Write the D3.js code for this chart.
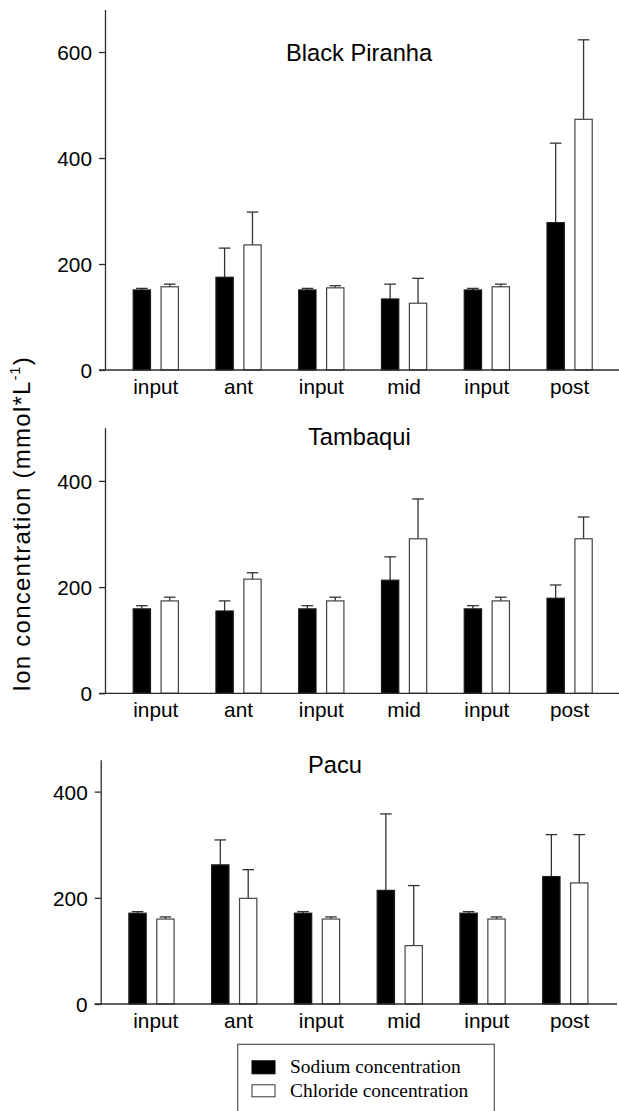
<!DOCTYPE html>
<html>
<head>
<meta charset="utf-8">
<script src="https://cdn.jsdelivr.net/npm/d3@7"></script>
<style>
  html, body { margin: 0; padding: 0; background: #fff; }
  svg { display: block; }
</style>
</head>
<body>
<svg id="chart" width="619" height="1111"></svg>
<script>
// ---------- data ----------
const categories = ["input", "ant", "input", "mid", "input", "post"];
const seriesNames = ["Sodium concentration", "Chloride concentration"];

const titles = ["Black Piranha", "Tambaqui", "Pacu"];

const piranhaNa    = [151, 175, 151, 134, 151, 278];
const piranhaNaErr = [3, 55, 3, 28, 3, 150];
const piranhaCl    = [157, 236, 155, 126, 157, 473];
const piranhaClErr = [5, 62, 4, 47, 5, 150];

const tambaquiNa    = [159, 155, 159, 213, 159, 179];
const tambaquiNaErr = [6, 19, 6, 44, 6, 25];
const tambaquiCl    = [174, 215, 174, 291, 174, 291];
const tambaquiClErr = [7, 12, 7, 75, 7, 41];

const pacuNa    = [171, 262, 171, 214, 171, 240];
const pacuNaErr = [3, 47, 3, 144, 3, 79];
const pacuCl    = [160, 199, 160, 110, 160, 228];
const pacuClErr = [4, 54, 4, 113, 4, 91];

const piranhaTicks  = [0, 200, 400, 600];
const tambaquiTicks = [0, 200, 400];
const pacuTicks     = [0, 200, 400];

const yMaxes = [680, 500, 460];

// ---------- layout ----------
const SANS = "'Liberation Sans', Arial, Helvetica, sans-serif";
const SERIF = "'Liberation Serif', 'Times New Roman', serif";

const panels = [
  { na: piranhaNa, naErr: piranhaNaErr, cl: piranhaCl, clErr: piranhaClErr, ticks: piranhaTicks,
    axisX: 105, base: 370, pxPerUnit: 0.53, titleX: 286, titleY: 61, labelAxisX: 105, axisEnd: 619 },
  { na: tambaquiNa, naErr: tambaquiNaErr, cl: tambaquiCl, clErr: tambaquiClErr, ticks: tambaquiTicks,
    axisX: 105, base: 693.3, pxPerUnit: 0.531, titleX: 308, titleY: 445, labelAxisX: 105, axisEnd: 619 },
  { na: pacuNa, naErr: pacuNaErr, cl: pacuCl, clErr: pacuClErr, ticks: pacuTicks,
    axisX: 100.7, base: 1004, pxPerUnit: 0.531, titleX: 308, titleY: 773, labelAxisX: 105, axisEnd: 617 }
];

const svg = d3.select("#chart");
const axisColor = "#2b2b2b";
const fs = 20.8;

panels.forEach((p, pi) => {
  const yMax = yMaxes[pi];
  const y = d3.scaleLinear().domain([0, yMax]).range([p.base, p.base - yMax * p.pxPerUnit]);
  const bandStart = 9.4, bandEnd = 506;
  const x0 = d3.scaleBand().domain(d3.range(categories.length))
    .range([p.axisX + bandStart, p.axisX + bandEnd]).padding(0);
  const xLab = d3.scaleBand().domain(d3.range(categories.length))
    .range([p.labelAxisX + bandStart, p.labelAxisX + bandEnd]).padding(0);
  const x1 = d3.scaleBand().domain(["na", "cl"])
    .range([x0.bandwidth() / 2 - 22.6, x0.bandwidth() / 2 + 22.6]).paddingInner(0.38).paddingOuter(0);

  const g = svg.append("g");

  // title
  g.append("text").attr("x", p.titleX).attr("y", p.titleY)
    .style("font-family", SANS).style("font-size", "23.7px").attr("fill", "#000")
    .text(titles[pi]);

  // bars
  const rows = categories.map((c, i) => ({ i, na: p.na[i], naErr: p.naErr[i], cl: p.cl[i], clErr: p.clErr[i] }));
  const grp = g.selectAll("g.grp").data(rows).join("g").attr("class", "grp")
    .attr("transform", d => `translate(${x0(d.i)},0)`);

  const items = d => [
    { key: "na", v: d.na, e: d.naErr },
    { key: "cl", v: d.cl, e: d.clErr }
  ];
  const capW = 5.8;
  grp.selectAll("line.err").data(items).join("line").attr("class", "err")
    .attr("x1", d => x1(d.key) + x1.bandwidth() / 2)
    .attr("x2", d => x1(d.key) + x1.bandwidth() / 2)
    .attr("y1", d => y(d.v)).attr("y2", d => y(d.v + d.e))
    .attr("stroke", "#333").attr("stroke-width", 1.3);
  grp.selectAll("line.cap").data(items).join("line").attr("class", "cap")
    .attr("x1", d => x1(d.key) + x1.bandwidth() / 2 - capW)
    .attr("x2", d => x1(d.key) + x1.bandwidth() / 2 + capW)
    .attr("y1", d => y(d.v + d.e)).attr("y2", d => y(d.v + d.e))
    .attr("stroke", "#333").attr("stroke-width", 1.3);
  grp.selectAll("rect").data(items).join("rect")
    .attr("x", d => x1(d.key))
    .attr("width", x1.bandwidth())
    .attr("y", d => y(d.v))
    .attr("height", d => y(0) - y(d.v))
    .attr("fill", d => d.key === "na" ? "#000" : "#fff")
    .attr("stroke", d => d.key === "na" ? "#1a1a1a" : "#444")
    .attr("stroke-width", 1.2);

  // y axis
  const yAxis = d3.axisLeft(y).tickValues(p.ticks).tickSize(6).tickPadding(7).tickSizeOuter(0);
  const ya = g.append("g").attr("transform", `translate(${p.axisX},0)`).call(yAxis);
  ya.select(".domain").attr("stroke", axisColor).attr("stroke-width", 1.3);
  ya.selectAll(".tick line").attr("stroke", axisColor).attr("stroke-width", 1.3);
  ya.selectAll(".tick text").style("font-size", fs + "px").style("font-family", SANS)
    .attr("fill", "#000").attr("dy", "0.36em");

  // x axis labels + baseline
  const xAxis = d3.axisBottom(xLab).tickFormat(i => categories[i]).tickSize(0).tickPadding(9);
  const xa = g.append("g").attr("transform", `translate(0,${p.base})`).call(xAxis);
  xa.select(".domain").remove();
  xa.selectAll(".tick text").style("font-size", fs + "px").style("font-family", SANS)
    .attr("fill", "#000");
  g.append("line").attr("x1", p.axisX - 6).attr("x2", p.axisEnd)
    .attr("y1", p.base).attr("y2", p.base)
    .attr("stroke", axisColor).attr("stroke-width", 1.3);
});

// y-axis title
const yt = svg.append("text")
  .attr("transform", "translate(29.5,691.7) rotate(-90)")
  .attr("text-anchor", "start")
  .style("font-family", SANS).style("font-size", "24px").style("letter-spacing", "1.25px")
  .attr("fill", "#000");
yt.append("tspan").text("Ion concentration (mmol*L");
yt.append("tspan").style("font-size", "14px").attr("dy", -10).text("-1");
yt.append("tspan").attr("dy", 10).text(")");

// legend
const lg = svg.append("g");
lg.append("rect").attr("x", 237.7).attr("y", 1044.3).attr("width", 256.6).attr("height", 90)
  .attr("fill", "#fff").attr("stroke", "#555").attr("stroke-width", 1.2);
const legendRows = seriesNames.map((n, i) => ({ n, i }));
const ly = d3.scalePoint().domain(d3.range(seriesNames.length)).range([1067.3, 1091.3]);
lg.selectAll("rect.sw").data(legendRows).join("rect").attr("class", "sw")
  .attr("x", 252).attr("width", 23)
  .attr("y", d => ly(d.i) - 6.5).attr("height", d => d.i === 0 ? 13 : 12)
  .attr("fill", d => d.i === 0 ? "#000" : "#fff")
  .attr("stroke", d => d.i === 0 ? "#000" : "#333").attr("stroke-width", 1);
lg.selectAll("text").data(legendRows).join("text")
  .attr("x", 290).attr("y", d => ly(d.i) + 5.5)
  .style("font-family", SERIF)
  .style("font-size", "19.4px")
  .attr("fill", "#000")
  .text(d => d.n);
</script>
</body>
</html>
